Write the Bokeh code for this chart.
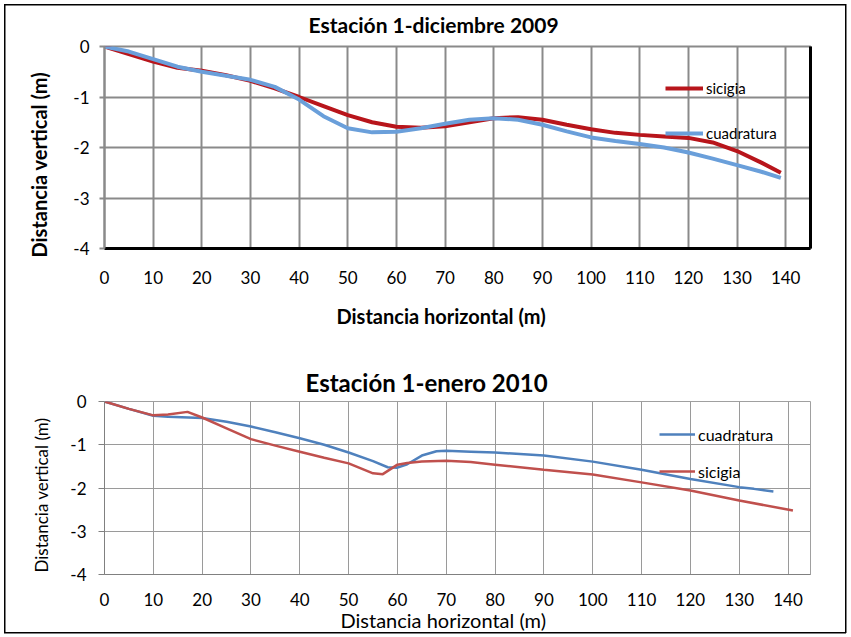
from bokeh.plotting import figure
from bokeh.models import (Range1d, FixedTicker, LinearAxis, Legend, LegendItem, Title,
                          PrintfTickFormatter)
from bokeh.layouts import column
from bokeh.embed import file_html
from bokeh.resources import INLINE

# ---- data: Estación 1 - diciembre 2009 ----
dic_sic_x = [0, 5, 10, 15, 20, 25, 30, 35, 40, 45, 50, 55, 60, 65, 70, 75, 80, 85, 90, 95, 100, 105, 110, 115, 120, 125, 130, 135, 139]
dic_sic_y = [0, -0.15, -0.3, -0.42, -0.48, -0.57, -0.68, -0.83, -1.0, -1.18, -1.36, -1.5, -1.59, -1.61, -1.58, -1.5, -1.42, -1.4, -1.45, -1.55, -1.64, -1.71, -1.75, -1.78, -1.81, -1.9, -2.07, -2.3, -2.5]
dic_cua_x = [0, 5, 10, 15, 20, 25, 30, 35, 40, 45, 50, 55, 60, 65, 70, 75, 80, 85, 90, 95, 100, 105, 110, 115, 120, 125, 130, 135, 139]
dic_cua_y = [0, -0.1, -0.25, -0.4, -0.5, -0.58, -0.66, -0.8, -1.05, -1.38, -1.62, -1.7, -1.69, -1.62, -1.53, -1.45, -1.42, -1.45, -1.55, -1.68, -1.8, -1.87, -1.93, -2.0, -2.1, -2.22, -2.35, -2.48, -2.6]

# ---- data: Estación 1 - enero 2010 ----
ene_cua_x = [0, 5, 10, 13, 20, 25, 30, 35, 40, 45, 50, 55, 58, 60, 62, 65, 68, 70, 75, 80, 90, 100, 110, 120, 130, 133, 137]
ene_cua_y = [0, -0.17, -0.33, -0.35, -0.38, -0.47, -0.58, -0.71, -0.85, -1.0, -1.18, -1.38, -1.52, -1.53, -1.45, -1.25, -1.15, -1.14, -1.16, -1.18, -1.25, -1.39, -1.58, -1.79, -1.98, -2.02, -2.08]
ene_sic_x = [0, 5, 10, 13, 17, 20, 25, 30, 35, 40, 45, 50, 55, 57, 60, 62, 65, 70, 75, 80, 90, 100, 110, 120, 130, 141]
ene_sic_y = [0, -0.17, -0.32, -0.3, -0.24, -0.37, -0.62, -0.87, -1.02, -1.16, -1.3, -1.43, -1.66, -1.68, -1.46, -1.42, -1.39, -1.37, -1.4, -1.46, -1.58, -1.69, -1.87, -2.06, -2.29, -2.52]

x_ticks = [0, 10, 20, 30, 40, 50, 60, 70, 80, 90, 100, 110, 120, 130, 140]
y_ticks = [0, -1, -2, -3, -4]

title_top = "Estación 1-diciembre 2009"
title_bot = "Estación 1-enero 2010"
xlabel = "Distancia horizontal (m)"
ylabel = "Distancia vertical (m)"

FONT = "Lato"


def side_title(p, side, text, size, bold, offset, standoff, valign="bottom"):
    t = Title(text=text, align="left", offset=offset, standoff=standoff,
              vertical_align=valign,
              text_font=FONT, text_font_size=size,
              text_font_style="bold" if bold else "normal", text_color="black")
    p.add_layout(t, side)


# ---------------- top chart ----------------
p1 = figure(width=851, height=345, x_range=Range1d(0, 145.1), y_range=Range1d(-4, 0),
            output_backend="svg", toolbar_location=None,
            min_border_left=101, min_border_right=41, min_border_top=46, min_border_bottom=97)
p1.border_fill_alpha = 0
p1.outline_line_color = "#8a8a8a"
p1.outline_line_width = 2
p1.styles = {
    "background-image": "linear-gradient(#000,#000),linear-gradient(#000,#000),linear-gradient(#000,#000)",
    "background-size": "1.5px 100%, 1.5px 100%, 842px 1.5px",
    "background-position": "4px 4px, 845px 4px, 4px 4px",
    "background-repeat": "no-repeat",
}

p1.xaxis.ticker = FixedTicker(ticks=x_ticks)
p1.yaxis.ticker = FixedTicker(ticks=y_ticks)
p1.xaxis.formatter = PrintfTickFormatter(format="%d")
p1.yaxis.formatter = PrintfTickFormatter(format="%d")
p1.xgrid.ticker = FixedTicker(ticks=x_ticks)
p1.ygrid.ticker = FixedTicker(ticks=y_ticks)
for g in (p1.xgrid, p1.ygrid):
    g.grid_line_color = "#8a8a8a"
    g.grid_line_width = 2

p1.xaxis.axis_line_color = "black"
p1.xaxis.axis_line_width = 3
p1.xaxis.major_tick_line_color = None
p1.xaxis.minor_tick_line_color = None
p1.xaxis.major_label_standoff = 16

p1.yaxis.axis_line_color = "#8a8a8a"
p1.yaxis.axis_line_width = 2
p1.yaxis.major_tick_line_color = "#8a8a8a"
p1.yaxis.major_tick_line_width = 2
p1.yaxis.major_tick_out = 5
p1.yaxis.major_tick_in = 0
p1.yaxis.minor_tick_line_color = None
p1.yaxis.major_label_standoff = 10

for ax in (p1.xaxis[0], p1.yaxis[0]):
    ax.major_label_text_font = FONT
    ax.major_label_text_font_size = "17px"
    ax.major_label_text_color = "black"

rax = LinearAxis(ticker=FixedTicker(ticks=[]), axis_line_color="black", axis_line_width=3,
                 major_tick_line_color=None, minor_tick_line_color=None,
                 major_label_text_alpha=0)
p1.add_layout(rax, "right")

side_title(p1, "above", title_top, "21px", True, 204, 16, valign="top")
side_title(p1, "below", xlabel, "20px", True, 232, 30)
side_title(p1, "left", ylabel, "20px", True, -9, 39)

r1 = p1.line(dic_sic_x, dic_sic_y, line_color="#B8151B", line_width=4)
r2 = p1.line(dic_cua_x, dic_cua_y, line_color="#6A9FDA", line_width=4)

leg1 = Legend(items=[LegendItem(label="sicigia", renderers=[r1]),
                     LegendItem(label="cuadratura", renderers=[r2])],
              location=(561, 105), orientation="vertical")
leg1.background_fill_alpha = 0
leg1.border_line_alpha = 0
leg1.padding = 0
leg1.margin = 0
leg1.glyph_width = 38
leg1.glyph_height = 20
leg1.label_height = 20
leg1.spacing = 25
leg1.label_standoff = 3
leg1.label_text_font = FONT
leg1.label_text_font_size = "15px"
leg1.label_text_color = "black"
p1.add_layout(leg1, "center")

# ---------------- bottom chart ----------------
p2 = figure(width=851, height=292, x_range=Range1d(0, 144.6), y_range=Range1d(-4, 0),
            output_backend="svg", toolbar_location=None,
            min_border_left=104, min_border_right=11, min_border_top=56, min_border_bottom=63)
p2.border_fill_alpha = 0
p2.outline_line_color = "#a0a0a0"
p2.outline_line_width = 1
p2.styles = {
    "background-image": "linear-gradient(#000,#000),linear-gradient(#000,#000),linear-gradient(#000,#000)",
    "background-size": "1.5px 288px, 1.5px 288px, 842px 1.5px",
    "background-position": "4px 0px, 845px 0px, 4px 287px",
    "background-repeat": "no-repeat",
}

p2.xaxis.ticker = FixedTicker(ticks=x_ticks)
p2.yaxis.ticker = FixedTicker(ticks=y_ticks)
p2.xaxis.formatter = PrintfTickFormatter(format="%d")
p2.yaxis.formatter = PrintfTickFormatter(format="%d")
p2.xgrid.ticker = FixedTicker(ticks=x_ticks)
p2.ygrid.ticker = FixedTicker(ticks=y_ticks)
for g in (p2.xgrid, p2.ygrid):
    g.grid_line_color = "#9a9a9a"
    g.grid_line_width = 1

p2.xaxis.axis_line_color = "#808080"
p2.xaxis.axis_line_width = 1
p2.xaxis.major_tick_line_color = None
p2.xaxis.minor_tick_line_color = None
p2.xaxis.major_label_standoff = 12

p2.yaxis.axis_line_color = "#808080"
p2.yaxis.axis_line_width = 1
p2.yaxis.major_tick_line_color = "#808080"
p2.yaxis.major_tick_out = 6
p2.yaxis.major_tick_in = 0
p2.yaxis.minor_tick_line_color = None
p2.yaxis.major_label_standoff = 12

for ax in (p2.xaxis[0], p2.yaxis[0]):
    ax.major_label_text_font = FONT
    ax.major_label_text_font_size = "17px"
    ax.major_label_text_color = "black"

side_title(p2, "above", title_bot, "24px", True, 201, 9)
side_title(p2, "below", xlabel, "20px", False, 236, -5)
side_title(p2, "left", ylabel, "17px", False, 2, 32)

r3 = p2.line(ene_cua_x, ene_cua_y, line_color="#4F81BD", line_width=2.5)
r4 = p2.line(ene_sic_x, ene_sic_y, line_color="#C0504D", line_width=2.5)

leg2 = Legend(items=[LegendItem(label="cuadratura", renderers=[r3]),
                     LegendItem(label="sicigia", renderers=[r4])],
              location=(555, 93), orientation="vertical")
leg2.background_fill_alpha = 0
leg2.border_line_alpha = 0
leg2.padding = 0
leg2.margin = 0
leg2.glyph_width = 36
leg2.glyph_height = 20
leg2.label_height = 20
leg2.spacing = 17
leg2.label_standoff = 3
leg2.label_text_font = FONT
leg2.label_text_font_size = "16px"
leg2.label_text_color = "black"
p2.add_layout(leg2, "center")

layout = column(p1, p2, spacing=0)

open("out.html", "w").write(file_html(layout, INLINE))
